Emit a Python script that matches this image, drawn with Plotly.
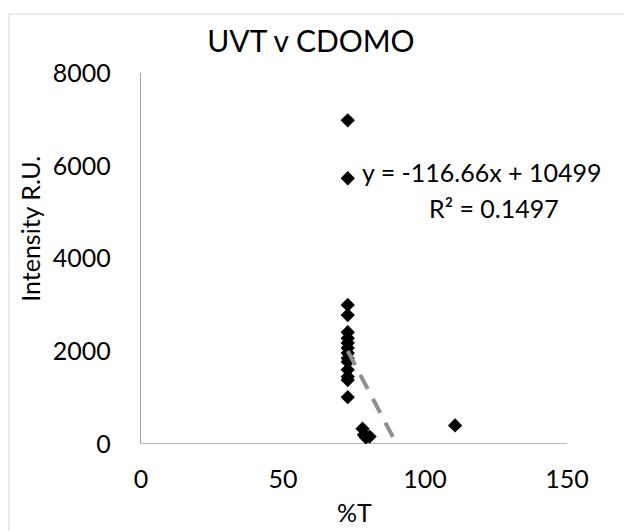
import plotly.graph_objects as go

# Data
uvt_pct = [72.8, 72.8, 72.8, 72.8, 72.8, 72.8, 72.8, 72.8, 72.8, 72.8, 72.8, 72.8, 72.8, 72.8, 72.8,
           78.0, 78.5, 79.2, 80.5, 110.6]
intensity = [6980, 5730, 3000, 2780, 2410, 2280, 2180, 2070, 1960, 1850, 1770, 1600, 1450, 1380, 1010,
             330, 200, 140, 160, 400]

slope = -116.66
intercept = 10499
r2 = 0.1497

x_ticks = [0, 50, 100, 150]
y_ticks = [0, 2000, 4000, 6000, 8000]

FONT = "Lato"

xmin, xmax = min(uvt_pct), max(uvt_pct)
trend_x = [xmin, xmax]
trend_y = [slope * v + intercept for v in trend_x]

fig = go.Figure()
fig.add_trace(go.Scatter(
    x=uvt_pct, y=intensity, mode="markers",
    marker=dict(symbol="diamond", size=11, color="black"),
    showlegend=False,
))
fig.add_trace(go.Scatter(
    x=trend_x, y=trend_y, mode="lines",
    line=dict(color="#8f8f8f", width=4, dash="16px,11px"),
    hoverinfo="skip", showlegend=False,
))

fig.add_annotation(x=0.80, y=0.733, xref="paper", yref="paper",
                   text=f"y = {slope}x + {intercept}", showarrow=False,
                   xanchor="center", yanchor="middle",
                   font=dict(family=FONT, size=25, color="black"))
fig.add_annotation(x=0.829, y=0.636, xref="paper", yref="paper",
                   text=f"R² = {r2}", showarrow=False,
                   xanchor="center", yanchor="middle",
                   font=dict(family=FONT, size=25, color="black"))
# axis titles
fig.add_annotation(x=-0.2606, y=0.58, xref="paper", yref="paper",
                   text="Intensity R.U.", showarrow=False, textangle=-90,
                   xanchor="center", yanchor="middle",
                   font=dict(family=FONT, size=25, color="black"))
fig.add_annotation(x=0.5, y=-0.183, xref="paper", yref="paper",
                   text="%T", showarrow=False,
                   xanchor="center", yanchor="middle",
                   font=dict(family=FONT, size=25, color="black"))

fig.update_layout(
    width=632, height=531,
    margin=dict(l=133, r=73, t=65, b=95, autoexpand=False),
    paper_bgcolor="white", plot_bgcolor="white",
    font=dict(family=FONT, color="black"),
    title=dict(text="UVT v CDOMO", x=0.399, xanchor="center", xref="paper",
               y=0.936, yanchor="middle", yref="container",
               font=dict(family=FONT, size=30, color="black")),
    xaxis=dict(range=[0, 150], tickvals=x_ticks, ticks="outside", ticklen=13,
               tickcolor="rgba(0,0,0,0)", showgrid=False, automargin=False,
               zeroline=False, showline=False, tickfont=dict(size=25)),
    yaxis=dict(range=[0, 8000], tickvals=y_ticks, ticks="outside", ticklen=24,
               tickcolor="rgba(0,0,0,0)", showgrid=False, automargin=False,
               zeroline=False, showline=True, linecolor="#a6a6a6", linewidth=1.3,
               tickfont=dict(size=25)),
    shapes=[
        dict(type="line", xref="x", yref="y", x0=0, x1=150, y0=0, y1=0,
             line=dict(color="#a6a6a6", width=1.5), layer="below"),
        dict(type="rect", xref="paper", yref="paper", x0=-0.31, x1=1.148, y0=-0.245, y1=1.159,
             line=dict(color="#d9d9d9", width=1), layer="below"),
    ],
)

fig.write_html("out.html")
